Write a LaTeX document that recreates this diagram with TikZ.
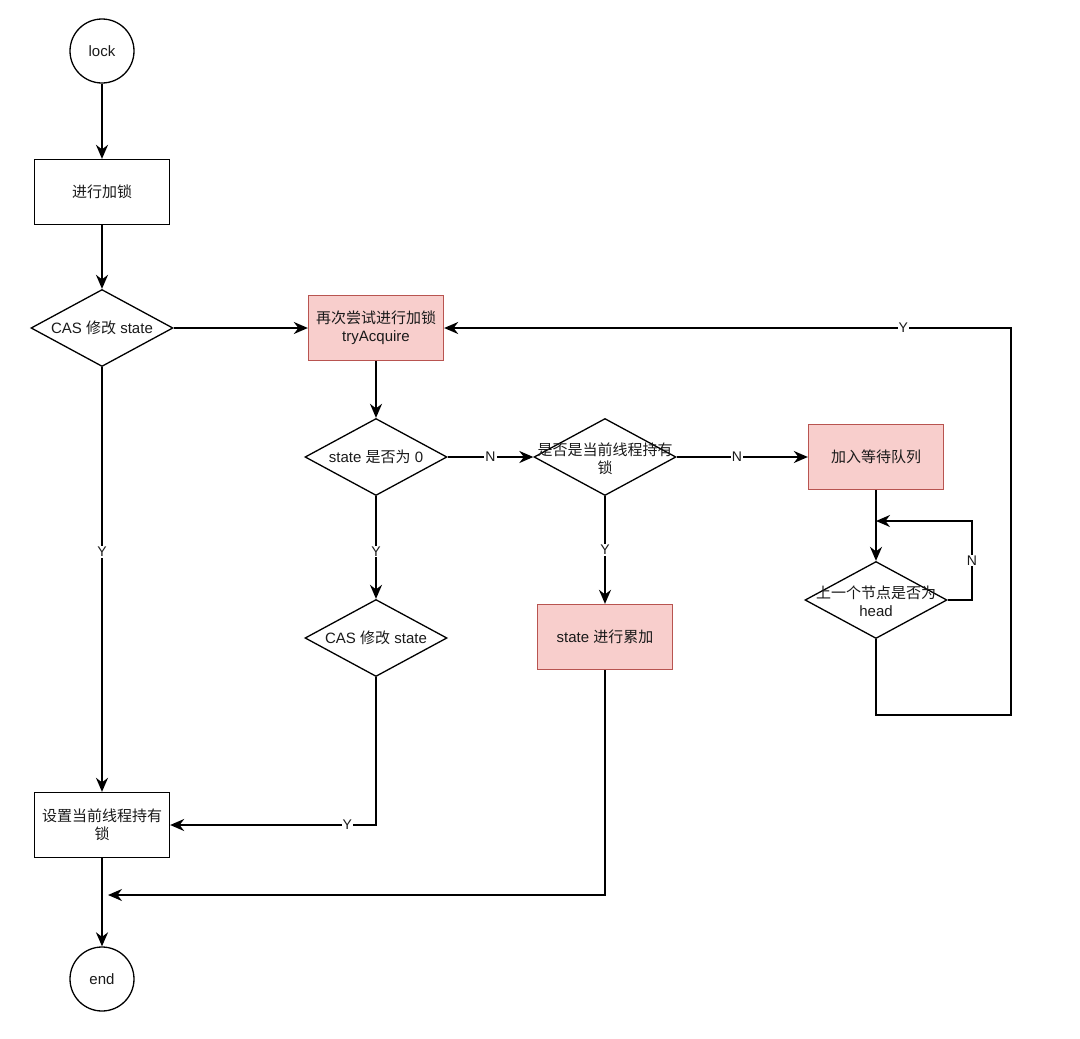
\documentclass[tikz,border=0pt]{standalone}
\usepackage{fontspec}
\setmainfont{Liberation Sans}
\newfontfamily\cjk{Noto Sans CJK SC}
\usetikzlibrary{shapes.geometric,arrows.meta}
\definecolor{pinkfill}{HTML}{F8CECC}
\definecolor{pinkline}{HTML}{B85450}
\definecolor{txt}{HTML}{1A1A1A}
\begin{document}
\begin{tikzpicture}[x=1pt,y=-1pt, font=\fontsize{15}{18}\selectfont,
 every node/.style={inner sep=0pt, text=txt},
 line/.style={line width=1.7pt, draw=black},
 arr/.style={line, -{Stealth[length=14pt,width=12pt,inset=4.5pt]}},
 circ/.style={circle, draw, line width=1.3pt, minimum size=64pt},
 box/.style={rectangle, draw, line width=1.3pt, minimum width=135pt, minimum height=65pt, align=center},
 pbox/.style={box, fill=pinkfill, draw=pinkline},
 dia/.style={diamond, draw, line width=1.3pt, minimum width=142pt, minimum height=77pt},
 dtext/.style={align=center},
 lbl/.style={fill=white, font=\fontsize{14}{16}\selectfont, inner sep=1pt}
]
\useasboundingbox[fill=white] (0,0) rectangle (1080,1039);

\node[circ] (lock) at (102,51) {lock};
\node[box] (jx) at (102,192) {\cjk 进行加锁};
\node[dia] (cas1) at (102,328) {};
\node[dtext] (cas1t) at (cas1.center) {CAS {\cjk 修改} state};
\node[pbox] (retry) at (376,328) {{\cjk 再次尝试进行加锁}\\tryAcquire};
\node[dia] (s0) at (376,457) {};
\node[dtext] (s0t) at (s0.center) {state {\cjk 是否为} 0};
\node[dia] (cur) at (605,457) {};
\node[dtext] (curt) at (605,459) {{\cjk 是否是当前线程持有}\\{\cjk 锁}};
\node[pbox] (queue) at (876,457) {\cjk 加入等待队列};
\node[dia] (head) at (876,600) {};
\node[dtext] (headt) at (876,601) {{\cjk 上一个节点是否为}\\head};
\node[dia] (cas2) at (376,638) {};
\node[dtext] (cas2t) at (cas2.center) {CAS {\cjk 修改} state};
\node[pbox] (acc) at (605,637) {state {\cjk 进行累加}};
\node[box] (set) at (102,825) {{\cjk 设置当前线程持有}\\{\cjk 锁}};
\node[circ] (end) at (102,979) {end};

\coordinate (loopin) at (876,521);
\coordinate (merge) at (108,895);

\draw[arr] (lock) -- (jx);
\draw[arr] (jx) -- (cas1);
\draw[arr] (cas1) -- (retry);
\draw[arr] (cas1) -- node[lbl, pos=0.435] {Y} (set);
\draw[arr] (retry) -- (s0);
\draw[arr] (s0) -- node[lbl] {N} (cur);
\draw[arr] (cur) -- node[lbl, pos=0.46] {N} (queue);
\draw[arr] (s0) -- node[lbl, pos=0.54] {Y} (cas2);
\draw[arr] (cur) -- node[lbl] {Y} (acc);
\draw[arr] (queue) -- (head);
\draw[arr] (head.east) -- (972,600) -- node[lbl] {N} (972,521) -- (loopin);
\draw[arr] (head.south) -- (876,715) -- (1011,715) -- (1011,328) -- node[lbl, pos=0.19] {Y} (retry.east);
\draw[arr] (cas2.south) |- node[lbl, pos=0.57] {Y} (set.east);
\draw[arr] (acc.south) |- (merge);
\draw[arr] (set) -- (end);
\end{tikzpicture}
\end{document}
